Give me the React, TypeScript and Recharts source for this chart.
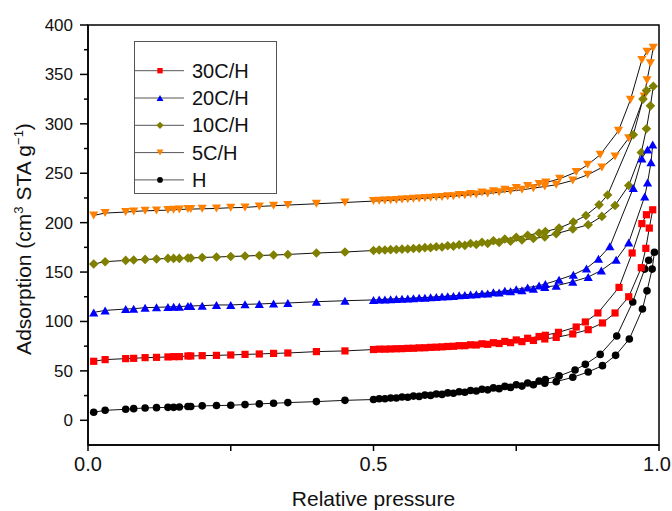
import React from 'react'
import { ScatterChart, Scatter, XAxis, YAxis, Legend, ReferenceArea } from 'recharts'

type Pt = [number, number]

// relative pressure grid, adsorption branch up to 0.80
const adsP = [
  0.01, 0.03, 0.066, 0.08, 0.1, 0.12, 0.14, 0.15, 0.16, 0.175, 0.18, 0.2, 0.225, 0.25, 0.275, 0.3,
  0.325, 0.35, 0.4, 0.45, 0.5, 0.52, 0.54, 0.56, 0.58, 0.6, 0.62, 0.64, 0.66, 0.68, 0.7, 0.72,
  0.74, 0.76, 0.78, 0.8,
]
// desorption branch below 0.80 (going down)
const desP = [0.79, 0.77, 0.75, 0.73, 0.71, 0.69, 0.67, 0.65, 0.63, 0.61, 0.59, 0.57, 0.55, 0.53, 0.51]

const hAds = [
  8.1, 10.1, 11.1, 11.8, 12.5, 12.8, 13.1, 13.1, 13.5, 13.9, 13.9, 14.6, 14.9, 15.2, 15.9, 16.6,
  17.2, 17.9, 18.9, 20.2, 21.0, 21.8, 22.5, 23.3, 24.2, 25.2, 26.2, 27.3, 28.4, 29.6, 30.8, 32.0,
  33.3, 34.6, 36.0, 37.5,
]
const hLoop: Pt[] = [
  [0.82, 39.1], [0.849, 43.5], [0.876, 48.9], [0.901, 55.3], [0.924, 65.7], [0.948, 82.2],
  [0.971, 112.6], [0.979, 131], [0.988, 153], [0.992, 170], [0.982, 162], [0.975, 153],
  [0.954, 119.7], [0.926, 85.3], [0.897, 66.7], [0.871, 56.6], [0.853, 50.9], [0.825, 44.9], [0.801, 41.2],
]
const hDes = [39.8, 37.8, 36.0, 34.3, 32.8, 31.4, 30.1, 28.9, 27.7, 26.6, 25.5, 24.5, 23.5, 22.6, 21.8]

const c30Ads = [
  59.7, 61.4, 62.4, 62.7, 63.4, 63.7, 64.1, 64.4, 64.4, 65.1, 65.1, 65.4, 65.7, 66.1, 66.7, 67.1,
  67.7, 68.1, 69.5, 70.2, 71.6, 72.0, 72.4, 72.8, 73.3, 73.8, 74.3, 74.9, 75.5, 76.2, 76.9, 77.7,
  78.6, 79.6, 80.8, 82.3,
]
const c30Loop: Pt[] = [
  [0.82, 83.9], [0.849, 87.4], [0.876, 91.7], [0.901, 98.5], [0.923, 108.6], [0.947, 125],
  [0.969, 154.4], [0.977, 174], [0.983, 194.5], [0.989, 213], [0.978, 208], [0.97, 199],
  [0.953, 169.3], [0.93, 134.5], [0.893, 108.6], [0.871, 99.5], [0.855, 94.4], [0.824, 89], [0.801, 86],
]
const c30Des = [84.8, 83.0, 81.3, 79.8, 78.5, 77.4, 76.4, 75.5, 74.7, 74.0, 73.4, 72.9, 72.5, 72.2, 72.0]

const c20Ads = [
  109.2, 111.2, 112.6, 112.9, 114.0, 114.3, 114.7, 115.0, 115.0, 115.7, 115.7, 116.0, 116.7, 116.7,
  117.3, 117.7, 118.3, 118.7, 120.0, 121.0, 121.8, 122.3, 122.8, 123.3, 123.9, 124.5, 125.2, 125.9,
  126.7, 127.5, 128.4, 129.4, 130.5, 131.7, 133.2, 134.9,
]
const c20Loop: Pt[] = [
  [0.82, 136.2], [0.849, 140.2], [0.876, 145], [0.899, 151.7], [0.925, 162.5], [0.947, 180],
  [0.975, 226.5], [0.98, 240.6], [0.986, 261], [0.989, 279], [0.98, 274], [0.97, 265],
  [0.955, 235], [0.914, 176], [0.894, 163.5], [0.873, 153.7], [0.85, 147.3], [0.825, 142.3], [0.801, 137.9],
]
const c20Des = [136.3, 134.3, 132.5, 131.0, 129.6, 128.4, 127.4, 126.5, 125.6, 124.8, 124.1, 123.5, 123.0, 122.6, 122.3]

const c10Ads = [
  158.1, 160.5, 161.8, 162.2, 162.8, 163.2, 163.8, 163.8, 163.8, 164.2, 164.2, 164.8, 165.2, 165.8,
  166.2, 166.8, 167.2, 167.8, 169.3, 170.3, 171.8, 172.3, 172.8, 173.4, 174.0, 174.7, 175.4, 176.2,
  177.0, 177.9, 178.9, 180.0, 181.2, 182.5, 183.9, 185.6,
]
const c10Loop: Pt[] = [
  [0.82, 188.8], [0.849, 193.5], [0.876, 197.9], [0.9, 206.3], [0.923, 217.4], [0.947, 237.6],
  [0.969, 271], [0.978, 295], [0.985, 318.2], [0.99, 338], [0.978, 333.6], [0.972, 325],
  [0.955, 289], [0.91, 228], [0.895, 218], [0.872, 207.3], [0.85, 200.6], [0.825, 194.5], [0.801, 191],
]
const c10Des = [189.5, 187.2, 185.2, 183.4, 181.7, 180.2, 178.9, 177.7, 176.6, 175.6, 174.7, 173.9, 173.2, 172.7, 172.3]

const c5Ads = [
  207.3, 209.7, 210.7, 211.3, 212.0, 212.3, 212.7, 213.0, 213.3, 213.7, 213.7, 214.0, 214.4, 215.1,
  215.4, 216.4, 217.1, 217.8, 219.1, 220.4, 221.8, 222.4, 223.0, 223.7, 224.4, 225.2, 226.0, 226.8,
  227.7, 228.6, 229.6, 230.7, 231.9, 233.3, 234.9, 236.6,
]
const c5Loop: Pt[] = [
  [0.82, 238.3], [0.849, 242.7], [0.875, 248.4], [0.9, 255.8], [0.923, 267], [0.947, 285.5],
  [0.974, 327.6], [0.979, 344], [0.985, 361.4], [0.99, 377], [0.979, 373], [0.97, 364.7],
  [0.95, 324.3], [0.929, 293], [0.897, 268.7], [0.875, 258.5], [0.855, 251.2], [0.826, 244.4], [0.802, 240.6],
]
const c5Des = [239.0, 237.0, 235.1, 233.4, 231.8, 230.4, 229.1, 227.9, 226.8, 225.8, 224.9, 224.1, 223.3, 222.7, 222.2]

const yTicks = [0, 25, 50, 75, 100, 125, 150, 175, 200, 225, 250, 275, 300, 325, 350, 375, 400]
const xTicks = [0, 0.25, 0.5, 0.75, 1]

type Kind = 'square' | 'up' | 'diamond' | 'down' | 'circle'

const toLoop = (ads: number[], loop: Pt[], des: number[]) => [
  ...adsP.map((p, i) => ({ x: p, y: ads[i] })),
  ...loop.map(([p, v]) => ({ x: p, y: v })),
  ...desP.map((p, i) => ({ x: p, y: des[i] })),
]

const series: { name: string; kind: Kind; color: string; data: { x: number; y: number }[] }[] = [
  { name: '30C/H', kind: 'square', color: '#ff0000', data: toLoop(c30Ads, c30Loop, c30Des) },
  { name: '20C/H', kind: 'up', color: '#0000ff', data: toLoop(c20Ads, c20Loop, c20Des) },
  { name: '10C/H', kind: 'diamond', color: '#808000', data: toLoop(c10Ads, c10Loop, c10Des) },
  { name: '5C/H', kind: 'down', color: '#ff8000', data: toLoop(c5Ads, c5Loop, c5Des) },
  { name: 'H', kind: 'circle', color: '#000000', data: toLoop(hAds, hLoop, hDes) },
]

const marker = (kind: Kind, color: string, cx: number, cy: number, s: number) => {
  switch (kind) {
    case 'square':
      return <rect x={cx - s * 0.9} y={cy - s * 0.9} width={s * 1.8} height={s * 1.8} fill={color} />
    case 'up':
      return <polygon points={`${cx},${cy - s} ${cx - s * 1.15},${cy + s} ${cx + s * 1.15},${cy + s}`} fill={color} />
    case 'down':
      return <polygon points={`${cx},${cy + s} ${cx - s * 1.15},${cy - s} ${cx + s * 1.15},${cy - s}`} fill={color} />
    case 'diamond':
      return <polygon points={`${cx},${cy - s * 1.2} ${cx + s * 1.2},${cy} ${cx},${cy + s * 1.2} ${cx - s * 1.2},${cy}`} fill={color} />
    default:
      return <circle cx={cx} cy={cy} r={s * 0.95} fill={color} />
  }
}

const Y_TICK = 8
const Y_GAP = 7
const X_TICK = 6
const X_GAP = 4

const YTick = (props: any) => {
  const { x, y, payload } = props
  const v = payload.value
  const major = v % 50 === 0
  const axisX = x + Y_TICK + Y_GAP
  return (
    <g>
      <line x1={axisX} x2={axisX - (major ? 8 : 4)} y1={y} y2={y} stroke="#000" strokeWidth={1.5} />
      {major && (
        <text x={axisX - 15} y={y + 6} textAnchor="end" fontSize={17} fill="#111">
          {v}
        </text>
      )}
    </g>
  )
}

const XTick = (props: any) => {
  const { x, y, payload } = props
  const v = payload.value
  const major = v === 0 || v === 0.5 || v === 1
  const axisY = y - X_TICK - X_GAP
  // last label sits against the right edge, as in the original
  const tx = v === 1 ? x - 2 : x
  return (
    <g>
      <line x1={x} x2={x} y1={axisY} y2={axisY + 6} stroke="#000" strokeWidth={1.5} />
      {major && (
        <text x={tx} y={axisY + 26} textAnchor="middle" fontSize={20} fill="#111">
          {v.toFixed(1)}
        </text>
      )}
    </g>
  )
}

const yLabel = (props: any) => {
  const vb = props.viewBox || { x: 0, y: 25, width: 88, height: 420 }
  const cx = vb.x + 31
  const cy = vb.y + vb.height / 2 + 4
  return (
    <text x={cx} y={cy} transform={`rotate(-90 ${cx} ${cy})`} textAnchor="middle" fontSize={21} fill="#111">
      Adsorption (cm
      <tspan dy={-8} fontSize={13}>3</tspan>
      <tspan dy={8}> STA g</tspan>
      <tspan dy={-8} fontSize={13}>−1</tspan>
      <tspan dy={8}>)</tspan>
    </text>
  )
}

const xLabel = (props: any) => {
  const vb = props.viewBox || { x: 88, y: 445, width: 571, height: 66 }
  return (
    <text x={vb.x + vb.width / 2} y={vb.y + 61} textAnchor="middle" fontSize={21} fill="#111">
      Relative pressure
    </text>
  )
}

const LegendBox = () => (
  <svg width={143} height={153} style={{ display: 'block' }}>
    <rect x={0.5} y={0.5} width={142} height={152} fill="#fff" stroke="#555" />
    {series.map((s, i) => {
      const cy = 29.7 + i * 27.3
      return (
        <g key={s.name}>
          <line x1={0} x2={50} y1={cy} y2={cy} stroke="#555" strokeWidth={1} />
          {marker(s.kind, s.color, 26, cy, 3)}
          <text x={58} y={cy + 7} fontSize={20} fill="#111">
            {s.name}
          </text>
        </g>
      )
    })}
  </svg>
)

export default function App() {
  return (
    <div style={{ position: 'absolute', left: 0, top: 0, fontFamily: '"Liberation Sans", Arial, sans-serif' }}>
      <ScatterChart width={672} height={511} margin={{ top: 25, right: 13, bottom: 0, left: 0 }}>
        <XAxis
          type="number"
          dataKey="x"
          domain={[0, 1]}
          ticks={xTicks}
          interval={0}
          allowDataOverflow
          height={66}
          tickSize={X_TICK}
          tickMargin={X_GAP}
          tickLine={false}
          axisLine={{ stroke: '#000', strokeWidth: 1.5 }}
          tick={<XTick />}
          label={{ content: xLabel }}
        />
        <YAxis
          type="number"
          dataKey="y"
          domain={[-25, 400]}
          ticks={yTicks}
          interval={0}
          allowDataOverflow
          width={88}
          tickSize={Y_TICK}
          tickMargin={Y_GAP}
          tickLine={false}
          axisLine={{ stroke: '#000', strokeWidth: 1.5 }}
          tick={<YTick />}
          label={{ content: yLabel }}
        />
        <ReferenceArea x1={0} x2={1} y1={-25} y2={400} fill="none" stroke="#000" strokeWidth={1.5} ifOverflow="visible" />
        {series
          .slice()
          .reverse()
          .map((s) => (
            <Scatter
              key={s.name}
              name={s.name}
              data={s.data}
              line={{ stroke: '#111', strokeWidth: 1 }}
              lineType="joint"
              isAnimationActive={false}
              shape={(p: any) => marker(s.kind, s.color, p.cx, p.cy, 4)}
            />
          ))}
        <Legend
          layout="vertical"
          align="center"
          verticalAlign="middle"
          wrapperStyle={{ left: 134, top: 41, width: 143, height: 153 }}
          content={() => <LegendBox />}
        />
      </ScatterChart>
    </div>
  )
}
